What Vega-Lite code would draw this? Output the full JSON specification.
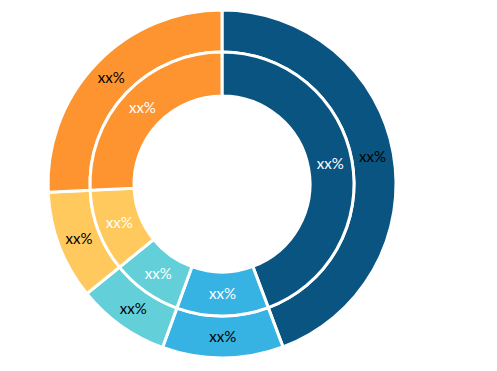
{
  "$schema": "https://vega.github.io/schema/vega-lite/v6.json",
  "autosize": "none",
  "padding": 0,
  "width": 444,
  "height": 368,
  "background": "white",
  "view": {"stroke": null},
  "data": {
    "values": [
      {"segment": "A", "o": 1, "value": 44.3, "label": "xx%"},
      {"segment": "B", "o": 2, "value": 11.25, "label": "xx%"},
      {"segment": "C", "o": 3, "value": 8.6, "label": "xx%"},
      {"segment": "D", "o": 4, "value": 10.1, "label": "xx%"},
      {"segment": "E", "o": 5, "value": 25.75, "label": "xx%"}
    ]
  },
  "encoding": {
    "theta": {"field": "value", "type": "quantitative", "stack": true},
    "order": {"field": "o", "type": "quantitative"},
    "color": {
      "field": "segment",
      "type": "nominal",
      "legend": null,
      "scale": {
        "domain": ["A", "B", "C", "D", "E"],
        "range": ["#0a5482", "#36b2e3", "#63cfd9", "#ffc95e", "#fd9430"]
      }
    }
  },
  "layer": [
    {"mark": {"type": "arc", "radius": 174, "radius2": 132, "stroke": "white", "strokeWidth": 3}},
    {"mark": {"type": "arc", "radius": 132, "radius2": 88, "stroke": "white", "strokeWidth": 3}},
    {
      "mark": {"type": "text", "radius": 153, "font": "Lato", "fontSize": 15, "fill": "black"},
      "encoding": {"text": {"field": "label"}, "color": {"value": "black"}}
    },
    {
      "mark": {"type": "text", "radius": 110, "font": "Lato", "fontSize": 15, "fill": "white"},
      "encoding": {"text": {"field": "label"}, "color": {"value": "white"}}
    }
  ]
}
